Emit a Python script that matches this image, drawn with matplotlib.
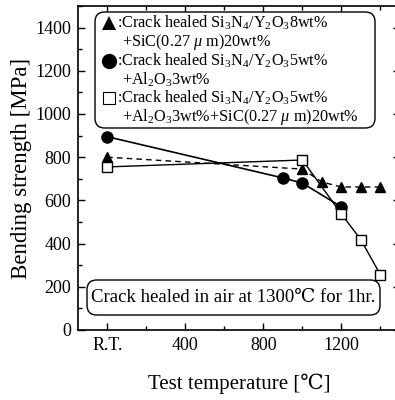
import matplotlib
matplotlib.use("Agg")
import matplotlib.pyplot as plt
from matplotlib.patches import FancyBboxPatch
from matplotlib.ticker import MultipleLocator, FixedLocator

plt.rcParams['font.family'] = ['Liberation Serif', 'DejaVu Serif', 'DejaVu Sans']
plt.rcParams['mathtext.fontset'] = 'custom'
plt.rcParams['mathtext.rm'] = 'Liberation Serif'
plt.rcParams['mathtext.it'] = 'Liberation Serif:italic'

# data
tri_x = [0, 1000, 1100, 1200, 1300, 1400]
tri_y = [800, 745, 685, 662, 662, 662]
cir_x = [0, 900, 1000, 1200]
cir_y = [895, 704, 680, 570]
sq_x = [0, 1000, 1200, 1300, 1400]
sq_y = [755, 787, 537, 417, 255]
xtick_pos = [0, 400, 800, 1200]
xtick_labels = ['R.T.', '400', '800', '1200']

W, H = 395, 400
fig = plt.figure(figsize=(W / 100, H / 100), dpi=100)
L, R, T, B = 78, 400, 6, 330
ax = fig.add_axes([L / W, (H - B) / H, (R - L) / W, (B - T) / H])

ax.plot(tri_x, tri_y, color='black', linestyle=(0, (4, 3)), lw=1.0,
        marker='^', ms=7, mfc='black', mec='black', zorder=3)
ax.plot(cir_x, cir_y, color='black', linestyle='-', lw=1.2,
        marker='o', ms=8, mfc='black', mec='black', zorder=3)
ax.plot(sq_x, sq_y, color='black', linestyle='-', lw=1.0,
        marker='s', ms=7, mfc='white', mec='black', mew=1.0, zorder=4)

ax.set_xlim(-150, 1500)
ax.set_ylim(0, 1500)
ax.xaxis.set_major_locator(FixedLocator(xtick_pos))
ax.set_xticklabels(xtick_labels)
ax.xaxis.set_minor_locator(FixedLocator([200, 600, 1000, 1400]))
ax.yaxis.set_major_locator(MultipleLocator(200))
ax.yaxis.set_minor_locator(MultipleLocator(100))
ax.tick_params(which='both', direction='in', top=True, right=True,
               labelsize=13, pad=5)
ax.tick_params(which='major', length=5, width=1)
ax.tick_params(which='minor', length=3, width=1)
for s in ax.spines.values():
    s.set_linewidth(1.2)

ax.set_ylabel('Bending strength [MPa]', fontsize=16.5, labelpad=2)
ax.set_xlabel('Test temperature [℃]', fontsize=15, labelpad=14)


def fx(px):
    return (px - L) / (R - L)


def fy(py):
    return (B - py) / (B - T)


# legend box
x0, x1, y0, y1 = 95, 375, 12, 128
box = FancyBboxPatch((fx(x0), fy(y1)), fx(x1) - fx(x0), fy(y0) - fy(y1),
                     boxstyle='round,pad=0,rounding_size=0.03',
                     transform=ax.transAxes, fc='white', ec='black', lw=1.0,
                     zorder=5)
ax.add_patch(box)

lines = [
    ('^', r':Crack healed Si$_3$N$_4$/Y$_2$O$_3$8wt%', 23),
    ('', r'+SiC(0.27 $\mu$ m)20wt%', 42),
    ('o', r':Crack healed Si$_3$N$_4$/Y$_2$O$_3$5wt%', 61),
    ('', r'+Al$_2$O$_3$3wt%', 80),
    ('s', r':Crack healed Si$_3$N$_4$/Y$_2$O$_3$5wt%', 98),
    ('', r'+Al$_2$O$_3$3wt%+SiC(0.27 $\mu$ m)20wt%', 117),
]
sym_style = {'^': dict(ms=10, mfc='black', mew=0),
             'o': dict(ms=11, mfc='black', mew=0),
             's': dict(ms=9, mfc='white', mew=0.8)}
for sym, txt, py in lines:
    if sym:
        ax.plot([fx(109)], [fy(py)], marker=sym, color='black',
                transform=ax.transAxes, zorder=6, clip_on=False,
                mec='black', **sym_style[sym])
        ax.text(fx(117), fy(py), txt, transform=ax.transAxes, fontsize=11.7,
                va='center', ha='left', zorder=6)
    else:
        ax.text(fx(122), fy(py), txt, transform=ax.transAxes, fontsize=11.7,
                va='center', ha='left', zorder=6)

# condition box
x0, x1, y0, y1 = 87, 380, 280, 315
box2 = FancyBboxPatch((fx(x0), fy(y1)), fx(x1) - fx(x0), fy(y0) - fy(y1),
                      boxstyle='round,pad=0,rounding_size=0.03',
                      transform=ax.transAxes, fc='white', ec='black', lw=1.0,
                      zorder=5)
ax.add_patch(box2)
ax.text(fx(233), fy(297.5), 'Crack healed in air at 1300℃ for 1hr.',
        transform=ax.transAxes, fontsize=13.5, va='center', ha='center',
        zorder=6)

fig.savefig('out.png', dpi=100)
